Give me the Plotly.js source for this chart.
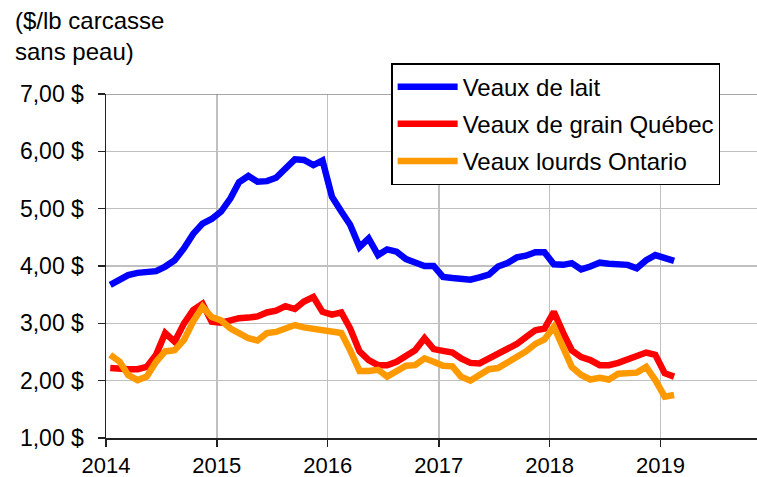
<!DOCTYPE html>
<html>
<head>
<meta charset="utf-8">
<script src="https://cdn.plot.ly/plotly-3.0.1.min.js"></script>
<style>
  html, body { margin: 0; padding: 0; background: #fff; }
  #chart { width: 757px; height: 477px; }
</style>
</head>
<body>
<div id="chart"></div>
<script>
// monthly prices, Jan 2014 -> Feb 2019 ($/lb carcasse sans peau)
var startYear = 2014;
var nMonths = 62;

var veauxLait = [
  3.67, 3.76, 3.84, 3.88, 3.89, 3.91, 3.99, 4.10, 4.31, 4.56, 4.74, 4.82,
  4.95, 5.18, 5.46, 5.57, 5.47, 5.48, 5.54, 5.72, 5.86, 5.85, 5.76, 5.84,
  5.21, 4.95, 4.72, 4.33, 4.48, 4.19, 4.29, 4.25, 4.12, 4.06, 4.00, 4.00,
  3.81, 3.79, 3.77, 3.76, 3.80, 3.85, 3.99, 4.05, 4.15, 4.18, 4.24, 4.24,
  4.03, 4.02, 4.05, 3.94, 3.99, 4.06, 4.04, 4.03, 4.02, 3.96, 4.10, 4.19,
  4.13, 4.09
];

var veauxGrain = [
  2.22, 2.20, 2.20, 2.20, 2.24, 2.45, 2.83, 2.68, 3.00, 3.23, 3.34, 3.03,
  3.01, 3.05, 3.09, 3.10, 3.12, 3.19, 3.22, 3.30, 3.25, 3.38, 3.46, 3.20,
  3.15, 3.19, 2.91, 2.51, 2.36, 2.27, 2.27, 2.33, 2.43, 2.53, 2.74, 2.55,
  2.52, 2.49, 2.39, 2.31, 2.30, 2.39, 2.48, 2.55, 2.64, 2.76, 2.88, 2.91,
  3.20, 2.83, 2.53, 2.41, 2.36, 2.27, 2.27, 2.31, 2.37, 2.41, 2.49, 2.45,
  2.13, 2.07
];

var veauxLourds = [
  2.45, 2.33, 2.10, 2.01, 2.07, 2.33, 2.51, 2.53, 2.71, 3.03, 3.29, 3.11,
  3.05, 2.91, 2.83, 2.74, 2.70, 2.83, 2.85, 2.90, 2.97, 2.93, 2.91, 2.87,
  2.87, 2.83, 2.53, 2.17, 2.17, 2.19, 2.07, 2.17, 2.26, 2.27, 2.39, 2.33,
  2.26, 2.25, 2.07, 2.00, 2.10, 2.20, 2.22, 2.31, 2.43, 2.51, 2.64, 2.72,
  2.94, 2.59, 2.24, 2.10, 2.02, 2.05, 2.02, 2.12, 2.14, 2.14, 2.24, 2.01,
  1.72, 1.75
];

var seriesNames = ['Veaux de lait', 'Veaux de grain Québec', 'Veaux lourds Ontario'];
var seriesColors = ['#0000ff', '#ff0000', '#ff9900'];

// mid-month dates
var months = [];
for (var i = 0; i < nMonths; i++) {
  var y = startYear + Math.floor(i / 12);
  var m = (i % 12) + 1;
  months.push(y + '-' + (m < 10 ? '0' + m : m) + '-15');
}

var font = 'Arial, "Liberation Sans", sans-serif';
var allSeries = [veauxLait, veauxGrain, veauxLourds];

var data = allSeries.map(function(vals, k) {
  return {
    x: months,
    y: vals,
    type: 'scatter',
    mode: 'lines',
    name: seriesNames[k],
    legendgroup: 'g' + k,
    line: { color: seriesColors[k], width: 6.5 }
  };
});

var layout = {
  width: 757,
  height: 477,
  margin: { l: 106, r: 0, t: 94, b: 39 },
  paper_bgcolor: '#fff',
  plot_bgcolor: '#fff',
  separators: ', ',
  font: { family: font, size: 23, color: '#000' },
  showlegend: true,
  legend: {
    x: 0.438, y: 1.09, xanchor: 'left', yanchor: 'top',
    bgcolor: '#fff', bordercolor: '#000', borderwidth: 1.5,
    traceorder: 'grouped', tracegroupgap: 3,
    itemwidth: 60,
    font: { family: font, size: 24, color: '#000' }
  },
  xaxis: {
    type: 'date',
    range: ['2014-01-01', '2019-11-15'],
    tick0: '2014-01-01',
    dtick: 'M12',
    tickformat: '%Y',
    showgrid: true,
    gridcolor: '#c0c0c0',
    gridwidth: 1.5,
    showline: true,
    linecolor: '#222',
    linewidth: 1.5,
    ticks: 'outside',
    ticklen: 7,
    tickcolor: '#222',
    tickwidth: 1.5,
    zeroline: false,
    tickfont: { family: font, size: 22, color: '#000' }
  },
  yaxis: {
    range: [1, 7],
    dtick: 1,
    tickformat: '.2f',
    ticksuffix: ' $',
    showgrid: true,
    gridcolor: '#c0c0c0',
    gridwidth: 1.5,
    showline: true,
    linecolor: '#222',
    linewidth: 1.5,
    ticks: 'outside',
    ticklen: 7,
    tickcolor: '#222',
    tickwidth: 1.5,
    ticklabelstandoff: 9,
    zeroline: false,
    tickfont: { family: font, size: 23, color: '#000' }
  },
  shapes: [
    { type: 'line', xref: 'paper', x0: 0, x1: 1, yref: 'y', y0: 7, y1: 7,
      line: { color: '#888', width: 1.5 } }
  ],
  annotations: [
    {
      text: '($/lb carcasse<br>sans peau)',
      xref: 'paper', yref: 'paper',
      x: -0.143, y: 1.26, xanchor: 'left', yanchor: 'top',
      align: 'left', showarrow: false,
      font: { family: font, size: 24, color: '#000' }
    }
  ]
};

Plotly.newPlot('chart', data, layout, { displayModeBar: false, staticPlot: true });
</script>
</body>
</html>
